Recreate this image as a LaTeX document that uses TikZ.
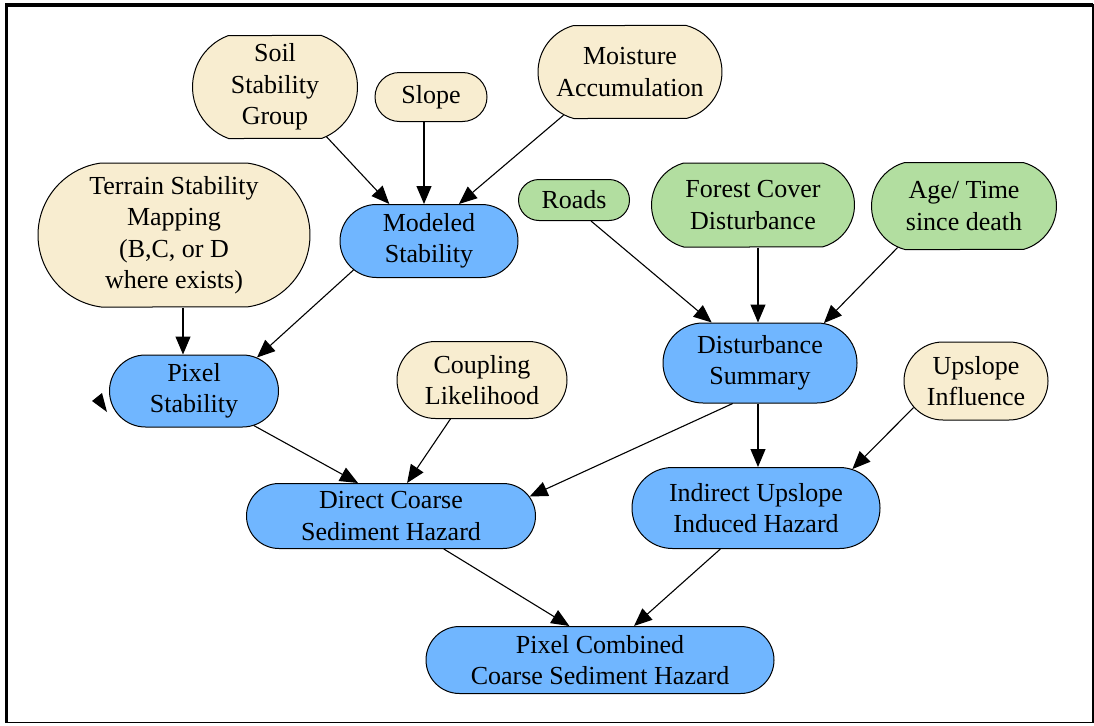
\documentclass[tikz,border=0pt]{standalone}
\usepackage{fontspec}
\setmainfont{Liberation Serif}
\usetikzlibrary{shapes.misc,arrows.meta}
\definecolor{cream}{RGB}{248,237,208}
\definecolor{leaf}{RGB}{178,222,160}
\definecolor{sky}{RGB}{112,182,255}
\begin{document}
\begin{tikzpicture}[x=1pt,y=-1pt,
  box/.style={rounded rectangle, draw=black, line width=1pt, align=center, inner sep=0pt,
    font=\rmfamily\fontsize{26}{31.5}\selectfont},
  flat/.style={rounded rectangle arc length=#1},
  cr/.style={box, fill=cream},
  gr/.style={box, fill=leaf},
  bl/.style={box, fill=sky},
  arr/.style={-{Triangle[length=18pt,width=15pt]}, line width=1.1pt}]
\useasboundingbox (0,0) rectangle (1094,725);
\draw[line width=1.2pt] (6.5,5) rectangle (1093,722.5);
\draw[line width=3.5pt] (6.5,722.5) -- (6.5,5) -- (1093,5);

\node[cr, flat=140, minimum width=165pt, minimum height=103pt] (soil) at (275,87) {Soil\\Stability\\Group};
\node[cr, minimum width=112pt, minimum height=49pt] (slope) at (431,97) {Slope};
\node[cr, flat=150, minimum width=184pt, minimum height=93pt] (moist) at (630,72) {Moisture\\Accumulation};
\node[cr, flat=165, minimum width=272pt, minimum height=144pt] (terrain) at (174,235) {Terrain Stability\\Mapping\\(B,C, or D\\where exists)};
\node[bl, minimum width=178pt, minimum height=73pt] (modeled) at (429,241) {Modeled\\Stability};
\node[gr, minimum width=111pt, minimum height=41pt] (roads) at (574,200) {Roads};
\node[gr, flat=150, minimum width=203pt, minimum height=84pt] (forest) at (753,205) {Forest Cover\\Disturbance};
\node[gr, flat=150, minimum width=185pt, minimum height=87pt] (age) at (964,206) {Age/ Time\\since death};
\node[bl, minimum width=194pt, minimum height=80pt] (dist) at (760,363) {Disturbance\\Summary};
\node[cr, minimum width=144pt, minimum height=78pt] (upslope) at (976,381) {Upslope\\Influence};
\node[cr, minimum width=170pt, minimum height=77pt] (coupling) at (482,380) {Coupling\\Likelihood};
\node[bl, minimum width=169pt, minimum height=72pt] (pixel) at (194,391) {Pixel\\Stability};
\node[bl, minimum width=289pt, minimum height=65pt] (direct) at (391,516) {Direct Coarse\\Sediment Hazard};
\node[bl, minimum width=248pt, minimum height=81pt] (indirect) at (756,508) {Indirect Upslope\\Induced Hazard};
\node[bl, minimum width=348pt, minimum height=67pt] (combined) at (600,660) {Pixel Combined\\Coarse Sediment Hazard};

\draw[arr] (soil.-44) -- (modeled.137);
\draw[arr] ([xshift=-7pt]slope.south) -- ([xshift=-5pt]modeled.north);
\draw[arr] (moist.-147) -- (modeled.51);
\draw[arr] ([xshift=9pt]terrain.south) -- ([xshift=-11pt]pixel.north);
\draw[arr] (modeled.201) -- (pixel.28);
\draw[arr] (roads.-51) -- (dist.140);
\draw[arr] ([xshift=5pt]forest.south) -- ([xshift=-2pt]dist.north);
\draw[arr] (age.-148) -- (dist.32);
\draw[arr] (pixel.-30) -- (direct.135);
\draw[arr] (coupling.-129) -- (direct.64);
\draw[arr] (dist.-124) -- (direct.8);
\draw[arr] ([xshift=-2pt]dist.south) -- ([xshift=2pt]indirect.north);
\draw[arr] (upslope.-157) -- (indirect.22);
\draw[arr] (direct.-32) -- (combined.132);
\draw[arr] (indirect.-131) -- (combined.45);

\fill (92,401) -- (102,393) -- (107,412) -- cycle;
\end{tikzpicture}
\end{document}
